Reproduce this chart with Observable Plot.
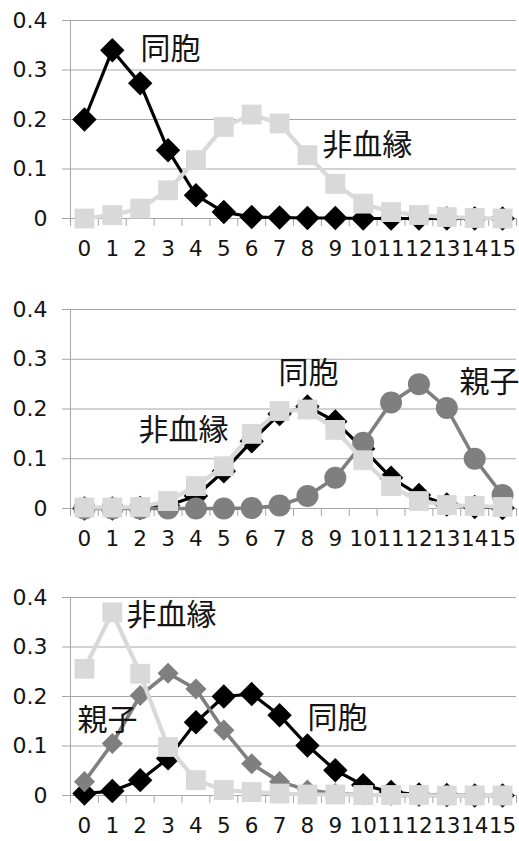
<!DOCTYPE html>
<html>
<head>
<meta charset="utf-8">
<script src="https://cdn.jsdelivr.net/npm/d3@7"></script>
<script src="https://cdn.jsdelivr.net/npm/@observablehq/plot@0.6"></script>
<style>
  html, body { margin: 0; padding: 0; background: #fff; }
  #chart { width: 519px; height: 841px; overflow: hidden; }
  #chart svg { display: block; }
</style>
</head>
<body>
<div id="chart"></div>
<script>
// ---- data ----
const categories = [0, 1, 2, 3, 4, 5, 6, 7, 8, 9, 10, 11, 12, 13, 14, 15];
const yTicks = [0, 0.1, 0.2, 0.3, 0.4];
const seriesNames = ["同胞", "非血縁", "親子"];
const panelTitles = ["IBS0", "IBS1", "IBS2"];

// IBS0
const ibs0Sibling   = [0.20, 0.34, 0.273, 0.138, 0.047, 0.013, 0.003, 0.002, 0.001, 0.001, 0, 0, 0, 0, 0, 0];
const ibs0Unrelated = [0.0, 0.007, 0.02, 0.057, 0.118, 0.185, 0.21, 0.192, 0.128, 0.07, 0.03, 0.013, 0.007, 0.003, 0.001, 0.0];

// IBS1
const ibs1Sibling   = [0, 0, 0.001, 0.006, 0.025, 0.075, 0.135, 0.19, 0.205, 0.175, 0.12, 0.062, 0.027, 0.008, 0.003, 0.001];
const ibs1Parent    = [0, 0, 0, 0, 0, 0, 0.001, 0.006, 0.025, 0.062, 0.132, 0.213, 0.25, 0.202, 0.1, 0.027];
const ibs1Unrelated = [0.002, 0.002, 0.003, 0.015, 0.045, 0.085, 0.15, 0.196, 0.199, 0.158, 0.097, 0.045, 0.015, 0.007, 0.005, 0.003];

// IBS2
const ibs2Sibling   = [0.004, 0.009, 0.031, 0.075, 0.148, 0.2, 0.205, 0.162, 0.101, 0.051, 0.021, 0.007, 0.002, 0.001, 0, 0];
const ibs2Parent    = [0.028, 0.105, 0.202, 0.247, 0.215, 0.132, 0.064, 0.028, 0.011, 0.004, 0.001, 0, 0, 0, 0, 0];
const ibs2Unrelated = [0.256, 0.37, 0.246, 0.098, 0.031, 0.011, 0.007, 0.004, 0.002, 0.002, 0.001, 0.001, 0.001, 0, 0, 0];

// ---- styles ----
const TEXT = "#141414";
const GRID = "#a6a6a6";
const LATIN = "'DejaVu Sans', sans-serif";
const CJK = "'Noto Sans CJK JP', sans-serif";
const styleOf = {
  "同胞":  {color: "#000000", symbol: "diamond2", r: 11, strokeWidth: 3.2},
  "非血縁": {color: "#d9d9d9", symbol: "square",   r: 11.2, strokeWidth: 4.2},
  "親子":  {color: "#7f7f7f", symbol: "circle",   r: 11, strokeWidth: 3.6}
};

const xDomain = [categories[0] - 0.5, categories[categories.length - 1] + 0.5];
const boundaries = categories.map(c => c - 0.5).concat([xDomain[1]]);

function panel({series, labels, title, height, marginTop, marginBottom}) {
  const marks = [
    Plot.gridY(yTicks, {stroke: GRID, strokeOpacity: 1}),
    Plot.axisY(yTicks, {tickSize: 8, tickPadding: 15, stroke: GRID, strokeOpacity: 1, color: TEXT,
      fontSize: 22, label: null, tickFormat: d => d === 0 ? "0" : d.toFixed(1)}),
    Plot.ruleX([xDomain[0]], {y1: yTicks[0], y2: yTicks[yTicks.length - 1], stroke: GRID}),
    Plot.axisX(boundaries, {tickSize: 8, stroke: GRID, strokeOpacity: 1, tickFormat: () => "", label: null}),
    Plot.axisX(categories, {tickSize: 0, tickPadding: 22, color: TEXT, fontSize: 21.5, label: null,
      tickFormat: d => String(d)})
  ];
  for (const s of series) {
    const st = styleOf[s.name];
    const rows = categories.map((c, i) => ({x: c, y: s.values[i]}));
    marks.push(Plot.line(rows, {x: "x", y: "y", stroke: st.color, strokeWidth: st.strokeWidth}));
    marks.push(Plot.dot(rows, {x: "x", y: "y", symbol: s.symbol ?? st.symbol, r: s.r ?? st.r,
      fill: st.color, stroke: "none"}));
  }
  marks.push(Plot.text(labels, {x: "x", y: "y", text: "text", fontSize: 30, fontFamily: CJK, fill: TEXT}));
  marks.push(Plot.text([title], {x: title.x, y: title.y, text: title.text, fontSize: 32, fontFamily: LATIN, fill: TEXT}));
  return Plot.plot({
    width: 519, height, marginLeft: 70, marginRight: 3, marginTop, marginBottom,
    x: {domain: xDomain},
    y: {domain: [yTicks[0], yTicks[yTicks.length - 1]]},
    style: {fontFamily: LATIN, background: "#fff", overflow: "visible"},
    marks
  });
}

const chart = document.getElementById("chart");

chart.append(panel({
  height: 280, marginTop: 20, marginBottom: 62,
  series: [
    {name: "同胞", values: ibs0Sibling},
    {name: "非血縁", values: ibs0Unrelated}
  ],
  labels: [
    {text: seriesNames[0], x: 3.09, y: 0.341},
    {text: seriesNames[1], x: 10.15, y: 0.147}
  ],
  title: {text: panelTitles[0], x: 13.28, y: 0.354}
}));

chart.append(panel({
  height: 290, marginTop: 29, marginBottom: 62,
  series: [
    {name: "同胞", values: ibs1Sibling},
    {name: "親子", values: ibs1Parent},
    {name: "非血縁", values: ibs1Unrelated}
  ],
  labels: [
    {text: seriesNames[0], x: 8.04, y: 0.271},
    {text: seriesNames[2], x: 14.53, y: 0.253},
    {text: seriesNames[1], x: 3.55, y: 0.157}
  ],
  title: {text: panelTitles[1], x: 13.78, y: 0.348}
}));

chart.append(panel({
  height: 271, marginTop: 27, marginBottom: 46,
  series: [
    {name: "同胞", values: ibs2Sibling},
    {name: "親子", values: ibs2Parent, symbol: "diamond2", r: 9.5},
    {name: "非血縁", values: ibs2Unrelated}
  ],
  labels: [
    {text: seriesNames[1], x: 3.12, y: 0.364},
    {text: seriesNames[2], x: 0.83, y: 0.152},
    {text: seriesNames[0], x: 9.08, y: 0.156}
  ],
  title: {text: panelTitles[2], x: 13.6, y: 0.354}
}));
</script>
</body>
</html>
